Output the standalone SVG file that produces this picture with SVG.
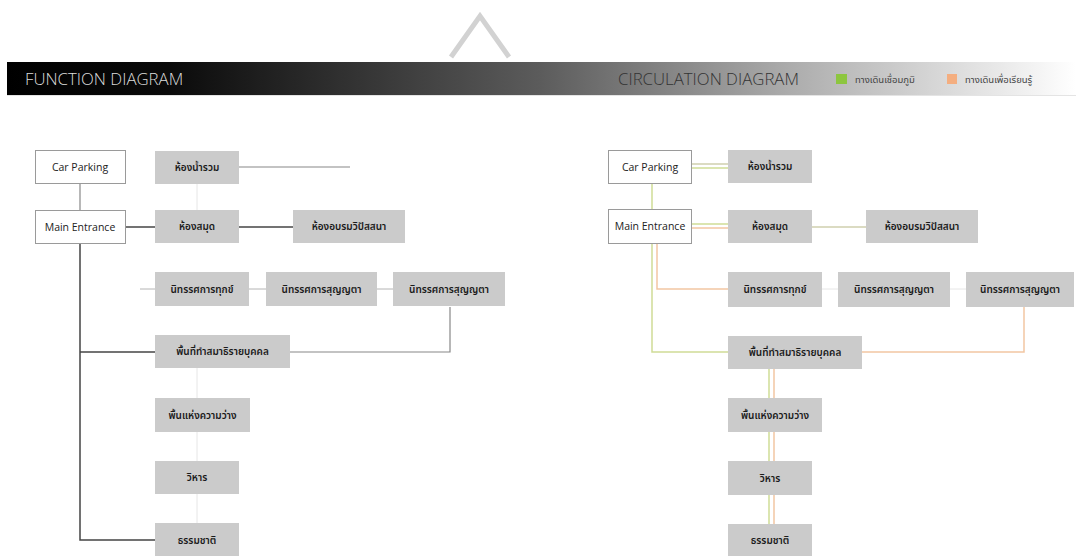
<svg xmlns="http://www.w3.org/2000/svg" width="1076" height="556" viewBox="0 0 1076 556">
<defs>
<linearGradient id="bar" x1="0" y1="0" x2="1" y2="0">
<stop offset="0" stop-color="#000"/>
<stop offset="0.15" stop-color="#0a0a0a"/>
<stop offset="0.5" stop-color="#5c5c5c"/>
<stop offset="0.72" stop-color="#a8a8a8"/>
<stop offset="0.88" stop-color="#dadada"/>
<stop offset="1" stop-color="#fff"/>
</linearGradient>
</defs>
<style>
.en{font-family:"Open Sans","Liberation Sans",sans-serif;font-size:10.5px;fill:#222;text-anchor:middle}
.th{font-family:"Noto Sans Thai","Noto Sans","DejaVu Sans",sans-serif;font-size:10px;fill:#1a1a1a;text-anchor:middle;font-weight:600}
.hd{font-family:"Open Sans","Liberation Sans",sans-serif;font-weight:300;font-size:16.8px}
.lg{font-family:"Noto Sans Thai","Noto Sans",sans-serif;font-size:9.5px;fill:#444}
.wb{fill:#fff;stroke:#9a9a9a;stroke-width:1}
.gb{fill:#cbcbcb}
.dk{stroke:#444;stroke-width:1.5;fill:none}
.md{stroke:#888;stroke-width:1.2;fill:none}
.lt{stroke:#b4b4b4;stroke-width:1;fill:none}
.fa{stroke:#e6e6e6;stroke-width:1;fill:none}
.gr{stroke:#cfdc96;stroke-width:1.5;fill:none}
.or{stroke:#f2c6a2;stroke-width:1.5;fill:none}
.kh{stroke:#cfcfae;stroke-width:1.5;fill:none}
</style>
<rect width="1076" height="556" fill="#fff"/>
<polyline points="451,57 480,16 509,57" fill="none" stroke="#d2d2d2" stroke-width="5"/>
<g id="header">
<rect x="7" y="62" width="1069" height="33" fill="url(#bar)"/>
<line x1="7" y1="95.5" x2="1076" y2="95.5" stroke="#e4e4e4" stroke-width="1"/>
<text class="hd" x="25" y="85" fill="#dcdcdc">FUNCTION DIAGRAM</text>
<text class="hd" x="618" y="85" fill="#333">CIRCULATION DIAGRAM</text>
<rect x="836" y="74" width="11" height="10" fill="#8dc63f"/>
<text class="lg" x="855" y="83">ทางเดินเชื่อมภูมิ</text>
<rect x="947" y="74" width="10" height="10" fill="#f4ae80"/>
<text class="lg" x="965" y="83">ทางเดินเพื่อเรียนรู้</text>
</g>
<g id="connectors">
<!-- left diagram -->
<line class="md" x1="80" y1="183" x2="80" y2="210"/>
<polyline class="dk" points="80,243 80,540 155,540"/>
<line class="dk" x1="80" y1="352" x2="155" y2="352"/>
<line class="dk" x1="126" y1="227" x2="155" y2="227"/>
<line class="dk" x1="239" y1="227" x2="293" y2="227"/>
<line class="md" x1="239" y1="167" x2="350" y2="167"/>
<line class="fa" x1="197" y1="183" x2="197" y2="210"/>
<line class="lt" x1="140" y1="289" x2="155" y2="289"/>
<line class="lt" x1="249" y1="289" x2="266" y2="289"/>
<line class="lt" x1="377" y1="289" x2="393" y2="289"/>
<polyline class="md" points="450,307 450,352 290,352"/>
<line class="fa" x1="197" y1="368" x2="197" y2="398"/>
<line class="fa" x1="197" y1="432" x2="197" y2="461"/>
<line class="fa" x1="197" y1="494" x2="197" y2="523"/>
<!-- right diagram -->
<line class="gr" x1="652" y1="183" x2="652" y2="210"/>
<line class="kh" x1="691" y1="164" x2="728" y2="164"/>
<line class="gr" x1="691" y1="168" x2="728" y2="168"/>
<line class="gr" x1="691" y1="224" x2="728" y2="224"/>
<line class="or" x1="691" y1="228" x2="728" y2="228"/>
<line class="kh" x1="812" y1="227" x2="866" y2="227"/>
<polyline class="gr" points="652,243 652,352 728,352"/>
<polyline class="or" points="657,243 657,289 728,289"/>
<line class="fa" x1="822" y1="289" x2="838" y2="289"/>
<line class="fa" x1="950" y1="289" x2="966" y2="289"/>
<polyline class="or" points="1024,307 1024,352 862,352"/>
<line class="gr" x1="769" y1="369" x2="769" y2="398"/>
<line class="or" x1="774" y1="369" x2="774" y2="398"/>
<line class="gr" x1="769" y1="432" x2="769" y2="461"/>
<line class="or" x1="774" y1="432" x2="774" y2="461"/>
<line class="gr" x1="769" y1="495" x2="769" y2="524"/>
<line class="or" x1="774" y1="495" x2="774" y2="524"/>
</g>
<!-- left nodes -->
<g id="l-carparking"><rect class="wb" x="35.5" y="150.5" width="90" height="33"/><text class="en" x="80" y="171">Car Parking</text></g>
<g id="l-mainentrance"><rect class="wb" x="35.5" y="210.5" width="90" height="33"/><text class="en" x="80" y="231">Main Entrance</text></g>
<g id="l-restroom"><rect class="gb" x="155" y="151" width="84" height="33"/><text class="th" x="197" y="171">ห้องน้ำรวม</text></g>
<g id="l-library"><rect class="gb" x="155" y="210" width="84" height="33"/><text class="th" x="197" y="230">ห้องสมุด</text></g>
<g id="l-training"><rect class="gb" x="293" y="210" width="112" height="33"/><text class="th" x="349" y="230">ห้องอบรมวิปัสสนา</text></g>
<g id="l-ex1"><rect class="gb" x="155" y="272" width="94" height="34"/><text class="th" x="202" y="293">นิทรรศการทุกข์</text></g>
<g id="l-ex2"><rect class="gb" x="266" y="272" width="111" height="34"/><text class="th" x="321.5" y="293">นิทรรศการสุญญตา</text></g>
<g id="l-ex3"><rect class="gb" x="393" y="272" width="112" height="34"/><text class="th" x="449" y="293">นิทรรศการสุญญตา</text></g>
<g id="l-meditation"><rect class="gb" x="155" y="335" width="135" height="33"/><text class="th" x="222.5" y="355">พื้นที่ทำสมาธิรายบุคคล</text></g>
<g id="l-emptiness"><rect class="gb" x="155" y="398" width="95" height="34"/><text class="th" x="202.5" y="419">พื้นแห่งความว่าง</text></g>
<g id="l-vihara"><rect class="gb" x="155" y="461" width="84" height="33"/><text class="th" x="197" y="481">วิหาร</text></g>
<g id="l-nature"><rect class="gb" x="155" y="523" width="84" height="33"/><text class="th" x="197" y="544">ธรรมชาติ</text></g>
<!-- right nodes -->
<g id="r-carparking"><rect class="wb" x="608.5" y="150.5" width="83" height="33"/><text class="en" x="650" y="171">Car Parking</text></g>
<g id="r-mainentrance"><rect class="wb" x="608.5" y="209.5" width="83" height="34"/><text class="en" x="650" y="230">Main Entrance</text></g>
<g id="r-restroom"><rect class="gb" x="728" y="150" width="84" height="33"/><text class="th" x="770" y="170">ห้องน้ำรวม</text></g>
<g id="r-library"><rect class="gb" x="728" y="210" width="84" height="33"/><text class="th" x="770" y="230">ห้องสมุด</text></g>
<g id="r-training"><rect class="gb" x="866" y="210" width="112" height="33"/><text class="th" x="922" y="230">ห้องอบรมวิปัสสนา</text></g>
<g id="r-ex1"><rect class="gb" x="728" y="272" width="94" height="35"/><text class="th" x="775" y="293">นิทรรศการทุกข์</text></g>
<g id="r-ex2"><rect class="gb" x="838" y="272" width="112" height="35"/><text class="th" x="894" y="293">นิทรรศการสุญญตา</text></g>
<g id="r-ex3"><rect class="gb" x="966" y="272" width="108" height="35"/><text class="th" x="1020" y="293">นิทรรศการสุญญตา</text></g>
<g id="r-meditation"><rect class="gb" x="728" y="336" width="134" height="33"/><text class="th" x="795" y="356">พื้นที่ทำสมาธิรายบุคคล</text></g>
<g id="r-emptiness"><rect class="gb" x="728" y="398" width="94" height="34"/><text class="th" x="775" y="419">พื้นแห่งความว่าง</text></g>
<g id="r-vihara"><rect class="gb" x="728" y="461" width="84" height="34"/><text class="th" x="770" y="482">วิหาร</text></g>
<g id="r-nature"><rect class="gb" x="728" y="524" width="84" height="32"/><text class="th" x="770" y="544">ธรรมชาติ</text></g>
</svg>
